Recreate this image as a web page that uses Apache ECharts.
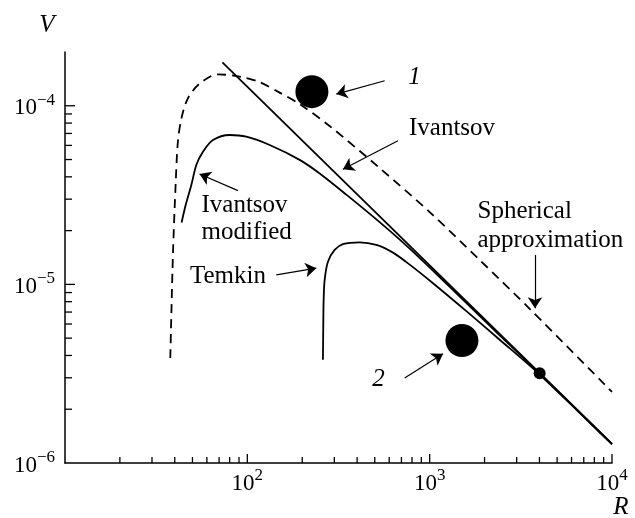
<!DOCTYPE html>
<html>
<head>
<meta charset="utf-8">
<script src="https://cdn.jsdelivr.net/npm/echarts@6/dist/echarts.min.js"></script>
<style>
  html, body { margin: 0; padding: 0; background: #fff; }
  #chart { width: 635px; height: 518px; }
</style>
</head>
<body>
<div id="chart"></div>
<script>
// Growth velocity V versus tip radius R (log-log)

const SERIF = "'Liberation Serif', 'Times New Roman', serif";

// Axis ranges
const R_MIN = 10, R_MAX = 10000;
const V_MIN = 1e-6, V_MAX = 2e-4;

// Ivantsov solution (straight line on log-log axes)
const ivantsovR = [73, 10000];
const ivantsovV = [1.75e-4, 1.28e-6];

// Ivantsov modified
const modifiedR = [43.6, 45.9, 49.3, 52.5, 57.1, 64.8, 80, 98.7, 132.6, 193.6, 249.3, 350.5, 531.8, 777, 1288, 2421, 4010, 10000];
const modifiedV = [2.22e-5, 2.78e-5, 3.6e-5, 4.66e-5, 5.53e-5, 6.43e-5, 6.86e-5, 6.71e-5, 6.03e-5, 4.98e-5, 4.18e-5, 3.17e-5, 2.23e-5, 1.585e-5, 9.68e-6, 5.19e-6, 3.17e-6, 1.28e-6];

// Temkin
const temkinR = [259.8, 261.1, 262.1, 265.5, 276.7, 301.2, 334.5, 413, 510, 629, 777, 1043, 1590, 2421, 4010, 10000];
const temkinV = [3.78e-6, 6.33e-6, 8.19e-6, 1.06e-5, 1.34e-5, 1.56e-5, 1.68e-5, 1.72e-5, 1.664e-5, 1.506e-5, 1.29e-5, 1.015e-5, 7.08e-6, 4.90e-6, 3.13e-6, 1.27e-6];

// Spherical approximation (dashed)
const sphericalR = [37.8, 39.1, 40.5, 41.6, 43.5, 47.2, 54.7, 69.0, 92.7, 116.8, 150.4, 193.6, 282.8, 531.8, 1000, 1881, 3536, 10000];
const sphericalV = [3.87e-6, 1.49e-5, 3.76e-5, 6.29e-5, 8.5e-5, 1.10e-4, 1.33e-4, 1.50e-4, 1.45e-4, 1.357e-4, 1.185e-4, 1.022e-4, 7.70e-5, 4.48e-5, 2.54e-5, 1.37e-5, 7.30e-6, 2.5e-6];

// Experimental points 1 and 2
const expR = [226, 1503];
const expV = [1.2e-4, 4.85e-6];

// Point where the curves meet
const meetR = [4010];
const meetV = [3.18e-6];

// Annotation arrows: [from, to] in (R, V)
const arrows = [
  [[566.5, 1.38e-4], [307.7, 1.162e-4]],   // 1
  [[670, 6.37e-5], [334.5, 4.41e-5]],      // Ivantsov
  [[88.8, 3.35e-5], [54.7, 4.15e-5]],      // Ivantsov modified
  [[144.2, 1.13e-5], [239, 1.232e-5]],     // Temkin
  [[3781, 1.462e-5], [3781, 7.36e-6]],     // Spherical approximation
  [[729, 2.99e-6], [1183, 4.09e-6]]        // 2
];

// Tick positions
const xMajorTicks = [100, 1000, 10000];
const xMinorTicks = [20, 30, 40, 50, 60, 70, 80, 90, 200, 300, 400, 500, 600, 700, 800, 900, 2000, 3000, 4000, 5000, 6000, 7000, 8000, 9000];
const yMajorTicks = [1e-5, 1e-4];
const yMinorTicks = [2e-6, 3e-6, 4e-6, 5e-6, 6e-6, 7e-6, 8e-6, 9e-6, 2e-5, 3e-5, 4e-5, 5e-5, 6e-5, 7e-5, 8e-5, 9e-5];

const zip = (a, b) => a.map((v, i) => [v, b[i]]);

function powerLabel(hideExp) {
  return function (v) {
    const l = Math.log10(v);
    const e = Math.round(l);
    if (Math.abs(l - e) > 1e-6 || e === hideExp) return '';
    return '{b|10}{s|' + (e < 0 ? '\u2212' : '') + Math.abs(e) + '}';
  };
}
const labelRich = {
  b: { fontFamily: SERIF, fontSize: 23, color: '#000', lineHeight: 28, verticalAlign: 'bottom' },
  s: { fontFamily: SERIF, fontSize: 17, color: '#000', lineHeight: 16, verticalAlign: 'top' }
};

function tickSeries(values, axis, len) {
  return {
    type: 'custom',
    silent: true,
    clip: false,
    z: 5,
    data: values.map(v => axis === 'x' ? [v, V_MIN] : [R_MIN, v]),
    renderItem: function (params, api) {
      const p = api.coord([api.value(0), api.value(1)]);
      const shape = axis === 'x'
        ? { x1: p[0], y1: p[1], x2: p[0], y2: p[1] - len }
        : { x1: p[0], y1: p[1], x2: p[0] + len, y2: p[1] };
      return { type: 'line', shape: shape, style: { stroke: '#000', lineWidth: 1.3 } };
    }
  };
}

const solid = { color: '#000', width: 1.8 };
const TXT = '25px ' + SERIF;
const ITXT = 'italic 25px ' + SERIF;

function label(x, y, text, font, align) {
  return { type: 'text', style: { x: x, y: y, text: text, font: font, fill: '#000', textAlign: align || 'left', textVerticalAlign: 'middle' } };
}

const chart = echarts.init(document.getElementById('chart'), null, { renderer: 'canvas' });
chart.setOption({
  animation: false,
  backgroundColor: '#fff',
  grid: { left: 65, right: 23, top: 52, bottom: 55 },
  xAxis: {
    type: 'log', logBase: 10, min: R_MIN, max: R_MAX,
    axisLine: { lineStyle: { color: '#000', width: 1.5 } },
    axisTick: { show: false },
    splitLine: { show: false },
    axisLabel: { formatter: powerLabel(1), rich: labelRich, margin: 4 }
  },
  yAxis: {
    type: 'log', logBase: 10, min: V_MIN, max: V_MAX,
    axisLine: { lineStyle: { color: '#000', width: 1.5 } },
    axisTick: { show: false },
    splitLine: { show: false },
    axisLabel: { formatter: powerLabel(null), rich: labelRich, margin: 10 }
  },
  series: [
    tickSeries(xMajorTicks, 'x', 9),
    tickSeries(xMinorTicks, 'x', 6),
    tickSeries(yMajorTicks, 'y', 10),
    tickSeries(yMinorTicks, 'y', 7),
    {
      name: 'Spherical approximation', type: 'line', data: zip(sphericalR, sphericalV),
      showSymbol: false, smooth: 0.3,
      lineStyle: { color: '#000', width: 1.8, type: [9, 6] }
    },
    {
      name: 'Ivantsov', type: 'line', data: zip(ivantsovR, ivantsovV),
      showSymbol: false, lineStyle: solid
    },
    {
      name: 'Ivantsov modified', type: 'line', data: zip(modifiedR, modifiedV),
      showSymbol: false, smooth: 0.3, lineStyle: solid
    },
    {
      name: 'Temkin', type: 'line', data: zip(temkinR, temkinV),
      showSymbol: false, smooth: 0.3, lineStyle: solid
    },
    {
      name: 'experiment', type: 'scatter', data: zip(expR, expV),
      symbol: 'circle', symbolSize: 33, itemStyle: { color: '#000', opacity: 1 }, z: 10
    },
    {
      name: 'meeting point', type: 'scatter', data: zip(meetR, meetV),
      symbol: 'circle', symbolSize: 12, itemStyle: { color: '#000', opacity: 1 }, z: 10
    },
    {
      name: 'arrows', type: 'lines', coordinateSystem: 'cartesian2d',
      data: arrows.map(a => ({ coords: a })),
      symbol: ['none', 'arrow'], symbolSize: [7, 11],
      lineStyle: { color: '#000', width: 1.2, opacity: 1 },
      z: 11
    }
  ],
  graphic: [
    label(47, 25, 'V', ITXT, 'center'),
    label(621, 507, 'R', ITXT, 'center'),
    label(414.5, 77, '1', ITXT, 'center'),
    label(378.5, 379, '2', ITXT, 'center'),
    label(409, 128.5, 'Ivantsov', TXT),
    label(201.5, 205.5, 'Ivantsov', TXT),
    label(201.5, 232, 'modified', TXT),
    label(190, 276, 'Temkin', TXT),
    label(477.5, 211.5, 'Spherical', TXT),
    label(477.5, 240, 'approximation', TXT)
  ]
});
</script>
</body>
</html>
